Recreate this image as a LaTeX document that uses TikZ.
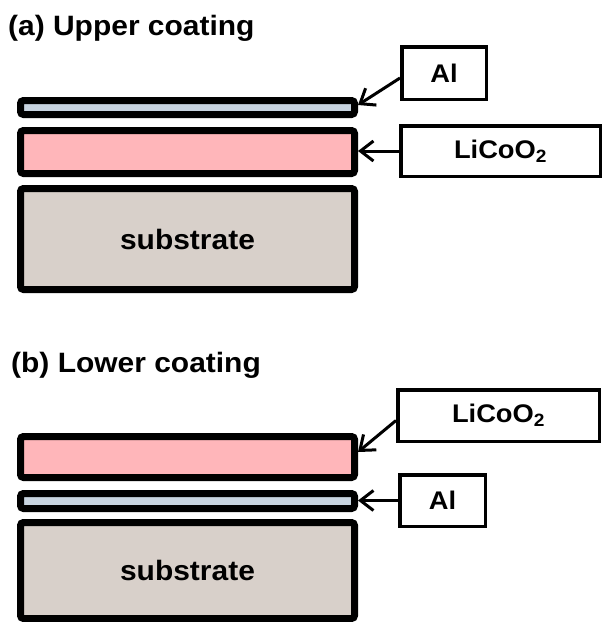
\documentclass[tikz,border=0pt]{standalone}
\usepackage{fontspec}
\setmainfont{Liberation Sans}[FakeStretch=1.07]
\usepackage{tikz}
\usetikzlibrary{arrows.meta}
\definecolor{alfill}{RGB}{200,212,224}
\definecolor{cofill}{RGB}{255,182,186}
\definecolor{subfill}{RGB}{216,208,202}

\begin{document}
\begin{tikzpicture}[x=1pt, y=-1pt,
  layer/.style={draw, line width=7pt, rounded corners=3pt, minimum width=334pt, inner sep=0pt, font=\fontsize{28}{32}\selectfont\bfseries},
  tag/.style={draw, line width=3.5pt, fill=white, inner sep=0pt, font=\fontsize{25.5}{29}\selectfont\bfseries},
  ptr/.style={line width=3pt, -{Straight Barb[length=13pt,width=20pt]}},
  title/.style={anchor=base west, inner sep=0pt, font=\fontsize{28}{32}\selectfont\bfseries}]
  \useasboundingbox (0,0) rectangle (602,622);
  % (a) upper coating
  \node[title] (ttlA) at (8,35) {(a) Upper coating};
  \node[layer, fill=alfill, minimum height=14pt] (alA) at (187.5,107.5) {};
  \node[layer, fill=cofill, minimum height=43pt] (coA) at (187.5,152) {};
  \node[layer, fill=subfill, minimum height=101pt] (subA) at (187.5,239) {substrate};
  \node[tag, minimum width=84.5pt, minimum height=52.5pt] (tagAlA) at (444,73) {Al};
  \node[tag, minimum width=199.5pt, minimum height=50.5pt] (tagCoA) at (500.5,151) {LiCoO\textsubscript{2}};
  \draw[ptr] ([yshift=-5pt]tagAlA.west) -- ([yshift=2.5pt]alA.east);
  \draw[ptr] (tagCoA.west) -- (tagCoA.west -| coA.east);
  % (b) lower coating
  \node[title] (ttlB) at (11,372) {(b) Lower coating};
  \node[layer, fill=cofill, minimum height=41pt] (coB) at (187.5,457) {};
  \node[layer, fill=alfill, minimum height=15pt] (alB) at (187.5,501) {};
  \node[layer, fill=subfill, minimum height=96pt] (subB) at (187.5,570.5) {substrate};
  \node[tag, minimum width=201.5pt, minimum height=51.5pt] (tagCoB) at (498.5,415.5) {LiCoO\textsubscript{2}};
  \node[tag, minimum width=85.5pt, minimum height=51.5pt] (tagAlB) at (442.5,500.5) {Al};
  \draw[ptr] ([yshift=-5pt]tagCoB.west) -- ([yshift=5pt]coB.east);
  \draw[ptr] (tagAlB.west) -- (tagAlB.west -| alB.east);
\end{tikzpicture}
\end{document}
